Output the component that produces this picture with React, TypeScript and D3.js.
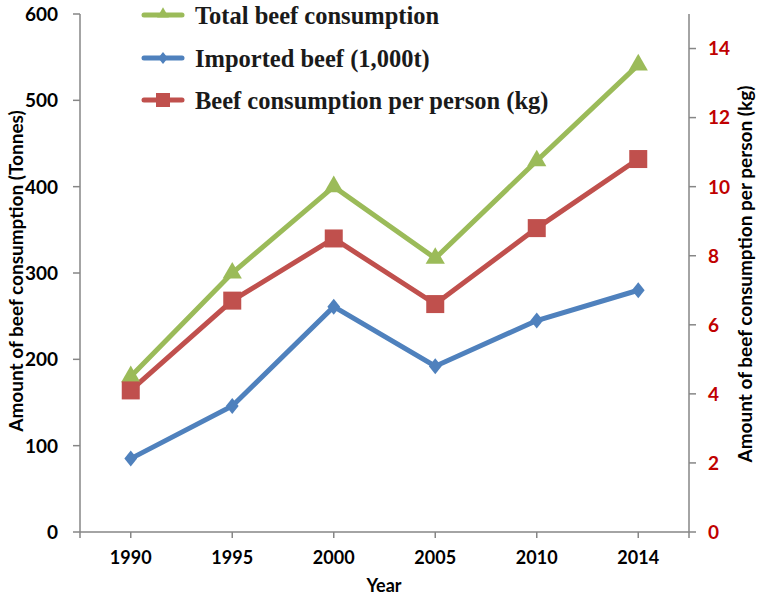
import React from "react";
import * as d3 from "d3";

const years = ["1990", "1995", "2000", "2005", "2010", "2014"];
const totalBeef = [180, 300, 400, 317, 430, 541];
const importedBeef = [85, 146, 261, 192, 245, 280];
const perPerson = [4.1, 6.7, 8.5, 6.6, 8.8, 10.8];
const leftTicks = [0, 100, 200, 300, 400, 500, 600];
const rightTicks = [0, 2, 4, 6, 8, 10, 12, 14];
const legendLabels = ["Total beef consumption", "Imported beef (1,000t)", "Beef consumption per person (kg)"];

const W = 762, H = 600;
const L = 80, R = 689, T = 14, B = 532;
const GREEN = "#9bbb59", BLUE = "#4f81bd", RED = "#c0504d";
const AXIS = "#868686";
const SANS = "Lato, 'Open Sans', sans-serif";

export default function App() {
  const x = d3.scaleBand<string>().domain(years).range([L, R]);
  const cx = (y: string) => (x(y) as number) + x.bandwidth() / 2;
  const yL = d3.scaleLinear().domain([0, 600]).range([B, T]);
  const yR = d3.scaleLinear().domain([0, 15]).range([B, T]);

  const lineL = d3.line<number>().x((_, i) => cx(years[i])).y((v) => yL(v));
  const lineR = d3.line<number>().x((_, i) => cx(years[i])).y((v) => yR(v));

  const tri = d3.symbol().type(d3.symbolTriangle).size(160)() as string;
  const dia = (s: number) => `M0,${-s}L${s * 0.8},0L0,${s}L${-s * 0.8},0Z`;
  const sq = 18;

  const legendY = [15, 58, 100];

  return (
    <svg width={W} height={H} style={{ position: "absolute", left: 0, top: 0, background: "#fff" }}>
      {/* axes */}
      <line x1={L} y1={T} x2={L} y2={B} stroke={AXIS} strokeWidth={1.5} />
      <line x1={R} y1={T} x2={R} y2={B} stroke={AXIS} strokeWidth={1.5} />
      <line x1={L} y1={B} x2={R} y2={B} stroke={AXIS} strokeWidth={1.5} />
      {leftTicks.map((t) => (
        <g key={"l" + t}>
          <line x1={L - 7} x2={L} y1={yL(t)} y2={yL(t)} stroke={AXIS} strokeWidth={1.5} />
          <text x={L - 22} y={yL(t)} dy="0.36em" textAnchor="end" fontFamily={SANS} fontWeight="bold" fontSize={19} fill="#000">{t}</text>
        </g>
      ))}
      {rightTicks.map((t) => (
        <g key={"r" + t}>
          <line x1={R} x2={R + 7} y1={yR(t)} y2={yR(t)} stroke={AXIS} strokeWidth={1.5} />
          <text x={R + 19} y={yR(t)} dy="0.36em" textAnchor="start" fontFamily={SANS} fontWeight="bold" fontSize={19} fill="#c00000">{t}</text>
        </g>
      ))}
      {years.map((yr) => (
        <g key={"x" + yr}>
          <line x1={cx(yr)} x2={cx(yr)} y1={B} y2={B + 6} stroke={AXIS} strokeWidth={1.5} />
          <text x={cx(yr)} y={B + 32} textAnchor="middle" fontFamily={SANS} fontWeight="bold" fontSize={18} fill="#000">{yr}</text>
        </g>
      ))}
      <line x1={R} x2={R} y1={B} y2={B + 6} stroke={AXIS} strokeWidth={1.5} />
      <line x1={L} x2={L} y1={B} y2={B + 6} stroke={AXIS} strokeWidth={1.5} />

      {/* axis titles */}
      <text x={384} y={592} textAnchor="middle" fontFamily={SANS} fontWeight="bold" fontSize={18} fill="#000">Year</text>
      <text transform={`translate(23,271) rotate(-90)`} textAnchor="middle" fontFamily={SANS} fontWeight="bold" fontSize={19} fill="#000">Amount of beef consumption (Tonnes)</text>
      <text transform={`translate(752,274) rotate(-90)`} textAnchor="middle" fontFamily={SANS} fontWeight="bold" fontSize={19} fill="#000">Amount of beef consumption per person (kg)</text>

      {/* series */}
      <path d={lineL(totalBeef) as string} fill="none" stroke={GREEN} strokeWidth={5} />
      <path d={lineL(importedBeef) as string} fill="none" stroke={BLUE} strokeWidth={5} />
      <path d={lineR(perPerson) as string} fill="none" stroke={RED} strokeWidth={5} />
      {totalBeef.map((v, i) => (
        <path key={"g" + i} d={tri} transform={`translate(${cx(years[i])},${yL(v)})`} fill={GREEN} />
      ))}
      {importedBeef.map((v, i) => (
        <path key={"b" + i} d={dia(8)} transform={`translate(${cx(years[i])},${yL(v)})`} fill={BLUE} />
      ))}
      {perPerson.map((v, i) => (
        <rect key={"r" + i} x={cx(years[i]) - sq / 2} y={yR(v) - sq / 2} width={sq} height={sq} fill={RED} />
      ))}

      {/* legend */}
      {legendLabels.map((lab, i) => {
        const ly = legendY[i];
        const col = [GREEN, BLUE, RED][i];
        return (
          <g key={"lg" + i}>
            <line x1={144} x2={182} y1={ly} y2={ly} stroke={col} strokeWidth={5} strokeLinecap="round" />
            {i === 0 && <path d={d3.symbol().type(d3.symbolTriangle).size(60)() as string} transform={`translate(163,${ly - 1})`} fill={col} />}
            {i === 1 && <path d={dia(6)} transform={`translate(163,${ly})`} fill={col} />}
            {i === 2 && <rect x={156} y={ly - 7} width={14} height={14} fill={col} />}
            <text x={195} y={ly} dy="0.35em" fontFamily="'Liberation Serif', 'Times New Roman', serif" fontWeight="bold" fontSize={24.5} fill="#1a1a1a">{lab}</text>
          </g>
        );
      })}
    </svg>
  );
}
